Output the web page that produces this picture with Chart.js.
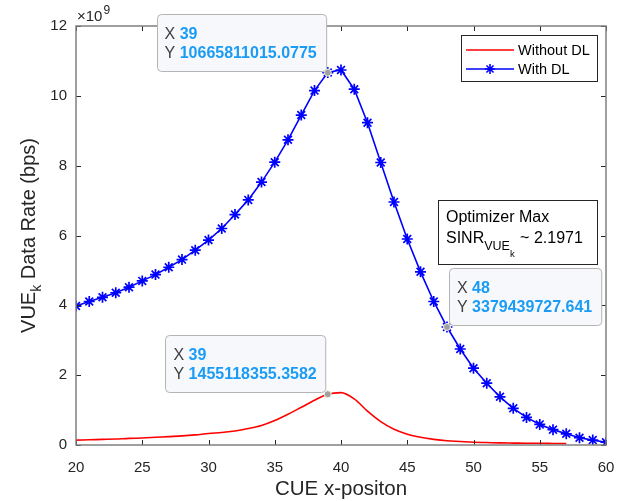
<!DOCTYPE html>
<html><head><meta charset="utf-8">
<script src="https://cdn.jsdelivr.net/npm/chart.js@4"></script>
<style>html,body{margin:0;padding:0;background:#fff;}#wrap{width:627px;height:501px;}</style>
</head><body><div id="wrap"><canvas id="c" width="627" height="501"></canvas></div>
<script>
// ---- data (values in units of 1e9 bps) ----
const xWithout = [20,21,22,23,24,25,26,27,28,29,30,31,32,33,34,35,36,37,38,39,40,41,42,43,44,45,46,47,48,49,50,51,52,53,54,55,56,57];
const withoutDL = [0.14,0.15,0.16,0.17,0.19,0.20,0.22,0.24,0.26,0.29,0.33,0.36,0.40,0.47,0.56,0.70,0.88,1.08,1.28,1.455118,1.50,1.32,0.97,0.67,0.45,0.31,0.22,0.16,0.12,0.10,0.08,0.07,0.06,0.055,0.05,0.05,0.045,0.04];
const xWith = [20,21,22,23,24,25,26,27,28,29,30,31,32,33,34,35,36,37,38,39,40,41,42,43,44,45,46,47,48,49,50,51,52,53,54,55,56,57,58,59,60];
const withDL = [3.98,4.11,4.23,4.36,4.52,4.70,4.88,5.09,5.31,5.58,5.87,6.20,6.60,7.02,7.53,8.10,8.74,9.45,10.15,10.665811,10.74,10.19,9.23,8.09,6.96,5.90,4.96,4.11,3.379440,2.75,2.20,1.77,1.38,1.05,0.79,0.59,0.44,0.32,0.21,0.14,0.08];
const seriesNames = ["Without DL","With DL"];
const xTicks = [20,25,30,35,40,45,50,55,60];
const yTicks = [0,2,4,6,8,10,12];
const dataTips = [
  {ds:1, x:39, xs:"39", ys:"10665811015.0775", side:"ul"},
  {ds:0, x:39, xs:"39", ys:"1455118355.3582", side:"ul"},
  {ds:1, x:48, xs:"48", ys:"3379439727.641", side:"ur"}
];
const FONT = "'Liberation Sans', Arial, Helvetica, sans-serif";

const decor = {
  id:'decor',
  afterDraw(chart){
    const ctx = chart.ctx, a = chart.chartArea;
    const xs = chart.scales.x, ys = chart.scales.y;
    ctx.save();
    // ticks
    ctx.strokeStyle = '#262626'; ctx.lineWidth = 1;
    const tl = 5;
    xTicks.forEach(v=>{
      const px = Math.round(xs.getPixelForValue(v))+0.5;
      ctx.beginPath(); ctx.moveTo(px,a.bottom); ctx.lineTo(px,a.bottom-tl);
      ctx.moveTo(px,a.top); ctx.lineTo(px,a.top+tl); ctx.stroke();
    });
    yTicks.forEach(v=>{
      const py = Math.round(ys.getPixelForValue(v))+0.5;
      ctx.beginPath(); ctx.moveTo(a.left,py); ctx.lineTo(a.left+tl,py);
      ctx.moveTo(a.right,py); ctx.lineTo(a.right-tl,py); ctx.stroke();
    });
    // box
    ctx.strokeStyle = '#808080'; ctx.lineWidth = 1.5;
    ctx.strokeRect(a.left, a.top, a.right-a.left, a.bottom-a.top);
    // exponent
    ctx.fillStyle = '#262626';
    ctx.font = '15px '+FONT; ctx.textBaseline='alphabetic'; ctx.textAlign='left';
    ctx.fillText('\u00d710', a.left+1, a.top-5);
    const w10 = ctx.measureText('\u00d710').width;
    ctx.font = '12px '+FONT;
    ctx.fillText('9', a.left+1+w10+1, a.top-12);
    // y label
    ctx.save();
    ctx.translate(28, (a.top+a.bottom)/2);
    ctx.rotate(-Math.PI/2);
    ctx.font = '20px '+FONT;
    const p1='VUE', p3=' Data Rate (bps)';
    const w1 = ctx.measureText(p1).width, w3 = ctx.measureText(p3).width;
    ctx.font = '14px '+FONT; const w2 = ctx.measureText('k').width;
    let sx = -(w1+w2+w3)/2;
    ctx.font = '20px '+FONT; ctx.fillText(p1, sx, 7);
    ctx.font = '14px '+FONT; ctx.fillText('k', sx+w1, 13);
    ctx.font = '20px '+FONT; ctx.fillText(p3, sx+w1+w2, 7);
    ctx.restore();
    // x label
    ctx.font = '20.5px '+FONT; ctx.textAlign='center';
    ctx.fillText('CUE x-positon', (a.left+a.right)/2, 495);
    // legend
    ctx.textAlign='left';
    const lx=461, ly=35, lw=136, lh=46;
    ctx.fillStyle='#fff'; ctx.fillRect(lx,ly,lw,lh);
    ctx.strokeStyle='#262626'; ctx.lineWidth=1; ctx.strokeRect(lx+0.5,ly+0.5,lw,lh);
    chart.data.datasets.forEach((d,i)=>{
      const yy = ly+15+i*19;
      ctx.strokeStyle=d.borderColor; ctx.lineWidth=1.5;
      ctx.beginPath(); ctx.moveTo(lx+5,yy); ctx.lineTo(lx+53,yy); ctx.stroke();
      if(d.pointRadius>0){
        ctx.lineWidth=1.6; const r=5, cx=lx+29;
        ctx.beginPath();
        ctx.moveTo(cx-r,yy); ctx.lineTo(cx+r,yy);
        ctx.moveTo(cx,yy-r); ctx.lineTo(cx,yy+r);
        const q=r*0.7071;
        ctx.moveTo(cx-q,yy-q); ctx.lineTo(cx+q,yy+q);
        ctx.moveTo(cx-q,yy+q); ctx.lineTo(cx+q,yy-q);
        ctx.stroke();
      }
      ctx.fillStyle='#000'; ctx.font='14.5px '+FONT;
      ctx.fillText(d.label, lx+57, yy+5);
    });
    // annotation textbox
    const bx=438, by=200, bw=159, bh=64;
    ctx.fillStyle='#fff'; ctx.fillRect(bx,by,bw,bh);
    ctx.strokeStyle='#262626'; ctx.lineWidth=1; ctx.strokeRect(bx+0.5,by+0.5,bw,bh);
    ctx.fillStyle='#000'; ctx.font='16px '+FONT;
    ctx.fillText('Optimizer Max', bx+8, by+22);
    let tx = bx+8;
    ctx.fillText('SINR', tx, by+43); tx += ctx.measureText('SINR').width;
    ctx.font='12.5px '+FONT; ctx.fillText('VUE', tx, by+50); const wv = ctx.measureText('VUE').width;
    ctx.font='9.5px '+FONT; ctx.fillText('k', tx+wv, by+57); tx += wv + ctx.measureText('k').width;
    ctx.font='16px '+FONT; ctx.fillText(' ~ 2.1971', tx+1, by+43);
    // data tips
    dataTips.forEach(t=>{
      const ds = chart.data.datasets[t.ds];
      const pt = ds.data.find(p=>p.x===t.x);
      const px = xs.getPixelForValue(pt.x), py = ys.getPixelForValue(pt.y);
      ctx.font='16px '+FONT;
      const wy = ctx.measureText('Y ').width;
      ctx.font='bold 16px '+FONT;
      const tw = Math.max(wy+ctx.measureText(t.xs).width, wy+ctx.measureText(t.ys).width);
      const w = tw+17, h = 57;
      let x0 = t.side==='ul' ? px-2-w : px+2;
      let y0 = py-2-h;
      ctx.fillStyle='#f7f8fc'; ctx.strokeStyle='#b4b4b4'; ctx.lineWidth=1;
      ctx.beginPath(); ctx.roundRect(Math.round(x0)+0.5, Math.round(y0)+0.5, w, h, 4); ctx.fill(); ctx.stroke();
      ctx.font='16px '+FONT; ctx.fillStyle='#404040';
      ctx.fillText('X ', x0+8, y0+25); ctx.fillText('Y ', x0+8, y0+44);
      ctx.font='bold 16px '+FONT; ctx.fillStyle='#1a9cf5';
      ctx.fillText(t.xs, x0+8+wy, y0+25); ctx.fillText(t.ys, x0+8+wy, y0+44);
      ctx.beginPath(); ctx.arc(px,py,3.5,0,Math.PI*2);
      ctx.fillStyle='#a0a0a0'; ctx.fill(); ctx.strokeStyle='#f0f0e0'; ctx.lineWidth=1; ctx.stroke();
    });
    ctx.restore();
  }
};

new Chart(document.getElementById('c'), {
  type:'line',
  data:{datasets:[
    {label:seriesNames[0], data:xWithout.map((x,i)=>({x, y:withoutDL[i]})), borderColor:'#ff0000', backgroundColor:'#ff0000',
     borderWidth:1.6, pointRadius:0, cubicInterpolationMode:'monotone', fill:false},
    {label:seriesNames[1], data:xWith.map((x,i)=>({x, y:withDL[i]})), borderColor:'#0000ff', backgroundColor:'#0000ff',
     borderWidth:1.6, pointStyle:'star', pointRadius:5.5, pointBorderWidth:1.7, pointBorderColor:'#0000ff', tension:0, fill:false}
  ]},
  options:{
    responsive:false, animation:false, devicePixelRatio:1,
    layout:{padding:{top:26,right:21,left:0,bottom:0}},
    plugins:{legend:{display:false}, tooltip:{enabled:false}},
    scales:{
      x:{type:'linear', min:20, max:60, afterBuildTicks(s){s.ticks = xTicks.map(v=>({value:v}));},
         afterFit(s){s.height=56;},
         grid:{display:false}, border:{display:false},
         ticks:{padding:6, color:'#262626', font:{family:FONT,size:15}, maxRotation:0}},
      y:{type:'linear', min:0, max:12, afterBuildTicks(s){s.ticks = yTicks.map(v=>({value:v}));},
         afterFit(s){s.width=76;},
         grid:{display:false}, border:{display:false},
         ticks:{padding:1, color:'#262626', font:{family:FONT,size:15}}}
    }
  },
  plugins:[decor]
});
</script></body></html>
